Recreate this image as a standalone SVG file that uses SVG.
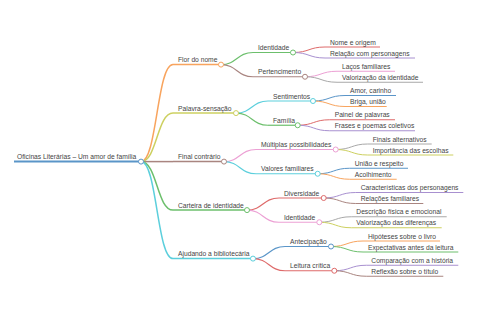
<svg xmlns="http://www.w3.org/2000/svg" width="480" height="320" viewBox="0 0 480 320">
<style>
text{font-family:"Liberation Sans",Arial,sans-serif;font-size:6.7px;fill:#444}
path,line{fill:none}
circle{fill:#fff;stroke-width:1}
.d0{stroke-width:2}
.d1{stroke-width:1.5}
.d2{stroke-width:1.2}
.d3{stroke-width:1}
.blue{stroke:#5a95c8}
.orange{stroke:#f8a45e}
.green{stroke:#6cbf6c}
.red{stroke:#de6a6a}
.purple{stroke:#a890d0}
.brown{stroke:#a98580}
.pink{stroke:#eca0d4}
.grey{stroke:#a8a8a8}
.olive{stroke:#cdd060}
.cyan{stroke:#5ccfdc}
</style>
<rect width="480" height="320" fill="#fff"/>
<g id="connectors">
<path class="d1 orange" d="M141,161.6 C157,161.6 157,64.6 173,64.6"/>
<path class="d1 olive" d="M141,161.6 C157,161.6 157,113.1 173,113.1"/>
<path class="d1 brown" d="M141,161.6 C157,161.6 157,161.6 173,161.6"/>
<path class="d1 green" d="M141,161.6 C157,161.6 157,210.1 173,210.1"/>
<path class="d1 cyan" d="M141,161.6 C157,161.6 157,258.6 173,258.6"/>
<path class="d2 green" d="M221,64.6 C237,64.6 237,52.5 253,52.5"/>
<path class="d2 brown" d="M221,64.6 C237,64.6 237,76.75 253,76.75"/>
<path class="d2 cyan" d="M236,113.1 C252,113.1 252,101 268,101"/>
<path class="d2 green" d="M236,113.1 C252,113.1 252,125.25 268,125.25"/>
<path class="d2 pink" d="M224,161.6 C240,161.6 240,149.5 256,149.5"/>
<path class="d2 cyan" d="M224,161.6 C240,161.6 240,173.75 256,173.75"/>
<path class="d2 red" d="M247,210.1 C263,210.1 263,198 279,198"/>
<path class="d2 pink" d="M247,210.1 C263,210.1 263,222.25 279,222.25"/>
<path class="d2 blue" d="M253,258.6 C269,258.6 269,246.5 285,246.5"/>
<path class="d2 red" d="M253,258.6 C269,258.6 269,270.75 285,270.75"/>
<path class="d3 red" d="M293,52.5 C309,52.5 309,47 325,47"/>
<path class="d3 purple" d="M293,52.5 C309,52.5 309,58 325,58"/>
<path class="d3 pink" d="M305,76.75 C321,76.75 321,71.25 337,71.25"/>
<path class="d3 grey" d="M305,76.75 C321,76.75 321,82.25 337,82.25"/>
<path class="d3 blue" d="M313,101 C329,101 329,95.5 345,95.5"/>
<path class="d3 orange" d="M313,101 C329,101 329,106.5 345,106.5"/>
<path class="d3 red" d="M297.7,125.25 C313.7,125.25 313.7,119.75 329.7,119.75"/>
<path class="d3 purple" d="M297.7,125.25 C313.7,125.25 313.7,130.75 329.7,130.75"/>
<path class="d3 grey" d="M335.7,149.5 C351.7,149.5 351.7,144 367.7,144"/>
<path class="d3 olive" d="M335.7,149.5 C351.7,149.5 351.7,155 367.7,155"/>
<path class="d3 blue" d="M317.7,173.75 C333.7,173.75 333.7,168.25 349.7,168.25"/>
<path class="d3 orange" d="M317.7,173.75 C333.7,173.75 333.7,179.25 349.7,179.25"/>
<path class="d3 purple" d="M323.7,198 C339.7,198 339.7,192.5 355.7,192.5"/>
<path class="d3 brown" d="M323.7,198 C339.7,198 339.7,203.5 355.7,203.5"/>
<path class="d3 grey" d="M319.3,222.25 C335.3,222.25 335.3,216.75 351.3,216.75"/>
<path class="d3 olive" d="M319.3,222.25 C335.3,222.25 335.3,227.75 351.3,227.75"/>
<path class="d3 orange" d="M331,246.5 C347,246.5 347,241 363,241"/>
<path class="d3 green" d="M331,246.5 C347,246.5 347,252 363,252"/>
<path class="d3 purple" d="M334.3,270.75 C350.3,270.75 350.3,265.25 366.3,265.25"/>
<path class="d3 brown" d="M334.3,270.75 C350.3,270.75 350.3,276.25 366.3,276.25"/>
</g>
<g id="root"><line class="d0 blue" x1="14" y1="161.6" x2="141" y2="161.6"/><text x="17" y="159.3">Oficinas Literárias – Um amor de família</text><circle class="blue" cx="141" cy="161.6" r="2.5"/></g>
<g id="n-flor"><line class="d1 orange" x1="173" y1="64.6" x2="221" y2="64.6"/><text x="178" y="62.3">Flor do nome</text><circle class="orange" cx="221" cy="64.6" r="2.5"/></g>
<g id="n-palavra"><line class="d1 olive" x1="173" y1="113.1" x2="236" y2="113.1"/><text x="178" y="110.8">Palavra-sensação</text><circle class="olive" cx="236" cy="113.1" r="2.5"/></g>
<g id="n-final"><line class="d1 brown" x1="173" y1="161.6" x2="224" y2="161.6"/><text x="178" y="159.3">Final contrário</text><circle class="brown" cx="224" cy="161.6" r="2.5"/></g>
<g id="n-carteira"><line class="d1 green" x1="173" y1="210.1" x2="247" y2="210.1"/><text x="178" y="207.8">Carteira de identidade</text><circle class="green" cx="247" cy="210.1" r="2.5"/></g>
<g id="n-ajudando"><line class="d1 cyan" x1="173" y1="258.6" x2="253" y2="258.6"/><text x="178" y="256.3">Ajudando a bibliotecária</text><circle class="cyan" cx="253" cy="258.6" r="2.5"/></g>
<g id="n-identidade1"><line class="d2 green" x1="253" y1="52.5" x2="293" y2="52.5"/><text x="258" y="50.2">Identidade</text><circle class="green" cx="293" cy="52.5" r="2.5"/></g>
<g id="n-pertencimento"><line class="d2 brown" x1="253" y1="76.75" x2="305" y2="76.75"/><text x="258" y="74.45">Pertencimento</text><circle class="brown" cx="305" cy="76.75" r="2.5"/></g>
<g id="n-sentimentos"><line class="d2 cyan" x1="268" y1="101" x2="313" y2="101"/><text x="273" y="98.7">Sentimentos</text><circle class="cyan" cx="313" cy="101" r="2.5"/></g>
<g id="n-familia"><line class="d2 green" x1="268" y1="125.25" x2="297.7" y2="125.25"/><text x="273" y="122.95">Família</text><circle class="green" cx="297.7" cy="125.25" r="2.5"/></g>
<g id="n-multiplas"><line class="d2 pink" x1="256" y1="149.5" x2="335.7" y2="149.5"/><text x="261" y="147.2">Múltiplas possibilidades</text><circle class="pink" cx="335.7" cy="149.5" r="2.5"/></g>
<g id="n-valores"><line class="d2 cyan" x1="256" y1="173.75" x2="317.7" y2="173.75"/><text x="261" y="171.45">Valores familiares</text><circle class="cyan" cx="317.7" cy="173.75" r="2.5"/></g>
<g id="n-diversidade"><line class="d2 red" x1="279" y1="198" x2="323.7" y2="198"/><text x="284" y="195.7">Diversidade</text><circle class="red" cx="323.7" cy="198" r="2.5"/></g>
<g id="n-identidade2"><line class="d2 pink" x1="279" y1="222.25" x2="319.3" y2="222.25"/><text x="284" y="219.95">Identidade</text><circle class="pink" cx="319.3" cy="222.25" r="2.5"/></g>
<g id="n-antecipacao"><line class="d2 blue" x1="285" y1="246.5" x2="331" y2="246.5"/><text x="290" y="244.2">Antecipação</text><circle class="blue" cx="331" cy="246.5" r="2.5"/></g>
<g id="n-leitura"><line class="d2 red" x1="285" y1="270.75" x2="334.3" y2="270.75"/><text x="290" y="268.45">Leitura crítica</text><circle class="red" cx="334.3" cy="270.75" r="2.5"/></g>
<g id="l-nome"><line class="d3 red" x1="325" y1="47" x2="380" y2="47"/><text x="330" y="44.7">Nome e origem</text></g>
<g id="l-relacao"><line class="d3 purple" x1="325" y1="58" x2="415" y2="58"/><text x="330" y="55.7">Relação com personagens</text></g>
<g id="l-lacos"><line class="d3 pink" x1="337" y1="71.25" x2="395" y2="71.25"/><text x="342" y="68.95">Laços familiares</text></g>
<g id="l-valorizacao1"><line class="d3 grey" x1="337" y1="82.25" x2="423" y2="82.25"/><text x="342" y="79.95">Valorização da identidade</text></g>
<g id="l-amor"><line class="d3 blue" x1="345" y1="95.5" x2="396" y2="95.5"/><text x="350" y="93.2">Amor, carinho</text></g>
<g id="l-briga"><line class="d3 orange" x1="345" y1="106.5" x2="386.7" y2="106.5"/><text x="350" y="104.2">Briga, união</text></g>
<g id="l-painel"><line class="d3 red" x1="329.7" y1="119.75" x2="395" y2="119.75"/><text x="334.7" y="117.45">Painel de palavras</text></g>
<g id="l-frases"><line class="d3 purple" x1="329.7" y1="130.75" x2="415" y2="130.75"/><text x="334.7" y="128.45">Frases e poemas coletivos</text></g>
<g id="l-finais"><line class="d3 grey" x1="367.7" y1="144" x2="431.7" y2="144"/><text x="372.7" y="141.7">Finais alternativos</text></g>
<g id="l-importancia"><line class="d3 olive" x1="367.7" y1="155" x2="453.3" y2="155"/><text x="372.7" y="152.7">Importância das escolhas</text></g>
<g id="l-uniao"><line class="d3 blue" x1="349.7" y1="168.25" x2="408" y2="168.25"/><text x="354.7" y="165.95">União e respeito</text></g>
<g id="l-acolhimento"><line class="d3 orange" x1="349.7" y1="179.25" x2="396.7" y2="179.25"/><text x="354.7" y="176.95">Acolhimento</text></g>
<g id="l-caracteristicas"><line class="d3 purple" x1="355.7" y1="192.5" x2="463.3" y2="192.5"/><text x="360.7" y="190.2">Características dos personagens</text></g>
<g id="l-relacoes"><line class="d3 brown" x1="355.7" y1="203.5" x2="423.3" y2="203.5"/><text x="360.7" y="201.2">Relações familiares</text></g>
<g id="l-descricao"><line class="d3 grey" x1="351.3" y1="216.75" x2="446.7" y2="216.75"/><text x="356.3" y="214.45">Descrição física e emocional</text></g>
<g id="l-valorizacao2"><line class="d3 olive" x1="351.3" y1="227.75" x2="441.7" y2="227.75"/><text x="356.3" y="225.45">Valorização das diferenças</text></g>
<g id="l-hipoteses"><line class="d3 orange" x1="363" y1="241" x2="440" y2="241"/><text x="368" y="238.7">Hipóteses sobre o livro</text></g>
<g id="l-expectativas"><line class="d3 green" x1="363" y1="252" x2="458.3" y2="252"/><text x="368" y="249.7">Expectativas antes da leitura</text></g>
<g id="l-comparacao"><line class="d3 purple" x1="366.3" y1="265.25" x2="458.3" y2="265.25"/><text x="371.3" y="262.95">Comparação com a história</text></g>
<g id="l-reflexao"><line class="d3 brown" x1="366.3" y1="276.25" x2="443.3" y2="276.25"/><text x="371.3" y="273.95">Reflexão sobre o título</text></g>
</svg>
